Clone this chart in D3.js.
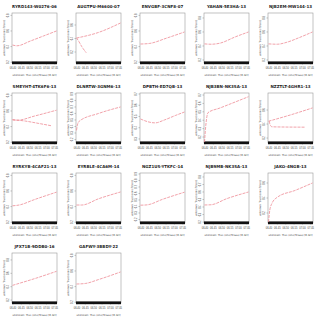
<!DOCTYPE html>
<html>
<head>
<meta charset="utf-8">
<script src="https://cdn.jsdelivr.net/npm/d3@7"></script>
<style>
  body{margin:0;background:#fff;}
  svg{display:block;font-family:"DejaVu Sans",sans-serif;}
</style>
</head>
<body>
<svg id="chart" width="320" height="320"></svg>
<script>
//data--------------------------------------------------
var titles=['RYRD143-W0276-06','AUGTPU-M6600-07','ENVGBF-3CNF8-07','YAHAN-5E3HA-13','NJB2EM-MW144-13',
  'SMEYHT-4TK6F6-13','DLNRTW-3GNM6-13','DPBTH-ED7QB-13','NJB3BN-NK3SA-13','NZZTLT-4GHR1-13',
  'RYRKYB-4CAF21-13','EYRBLE-4CA6M-14','NGZ1US-YTKFC-14','NJB9MB-NK3SA-13','JAKO-4NGB-13',
  'JFX71B-9DDB0-16','GAFWY-3BBDY-22'];

var yDomains=[[0.19,0.83],[0.037,0.778],[0.19,0.83],[0.157,0.871],[0.157,0.871],
  [0.19,0.83],[0.146,0.915],[0.264,0.709],[0.129,0.724],[0.129,0.843],
  [0.19,0.83],[0.19,0.83],[0.146,0.915],[0.187,0.853],[0.067,0.733],
  [0.156,0.904],[0.19,0.83]];

var yTicks=[[0.2,0.4,0.6,0.8],[0.2,0.4,0.6],[0.2,0.4,0.6,0.8],[0.2,0.4,0.6,0.8],[0.2,0.4,0.6,0.8],
  [0.2,0.4,0.6,0.8],[0.2,0.3,0.4,0.5,0.6,0.7,0.8,0.9],[0.3,0.4,0.5,0.6,0.7],[0.2,0.3,0.4,0.5,0.6,0.7],[0.2,0.4,0.6],
  [0.2,0.4,0.6,0.8],[0.2,0.4,0.6,0.8],[0.2,0.3,0.4,0.5,0.6,0.7,0.8,0.9],[0.2,0.3,0.4,0.5,0.6,0.7,0.8],[0.2,0.4,0.6],
  [0.2,0.4,0.6,0.8],[0.2,0.4,0.6,0.8]];

var xTickVals=[0,0.19,0.38,0.57,0.76,0.95];
var xTickLabels=['06.40','06.45','06.50','06.55','07.00','07.05'];

//first curve of every panel
var seriesA=[
  [[0,0.42],[0.1,0.41],[0.4,0.47],[0.7,0.535],[1,0.6]],
  [[0,0.407],[0.5,0.49],[1,0.63]],
  [[0,0.433],[0.2,0.44],[0.6,0.51],[1,0.587]],
  [[0,0.43],[0.15,0.425],[0.35,0.44],[0.7,0.53],[1,0.6]],
  [[0,0.43],[0.2,0.425],[0.4,0.45],[0.7,0.52],[1,0.6]],
  [[0,0.485],[0.1,0.48],[0.5,0.535],[1,0.61]],
  [[0,0.34],[0.02,0.42],[0.06,0.48],[0.5,0.6],[1,0.7]],
  [[0,0.478],[0.15,0.455],[0.33,0.443],[0.55,0.47],[0.8,0.51],[1,0.54]],
  [[0,0.14],[0.03,0.34],[0.08,0.49],[0.35,0.545],[1,0.68]],
  [[0,0.44],[0.5,0.53],[1,0.63]],
  [[0,0.41],[0.15,0.42],[0.5,0.49],[1,0.585]],
  [[0,0.42],[0.12,0.42],[0.5,0.5],[1,0.587]],
  [[0,0.42],[0.15,0.425],[0.5,0.51],[1,0.62]],
  [[0,0.427],[0.15,0.43],[0.5,0.51],[1,0.6]],
  [[0,0.08],[0.03,0.24],[0.08,0.33],[0.2,0.41],[0.6,0.5],[1,0.6]],
  [[0,0.42],[0.5,0.52],[1,0.63]],
  [[0,0.433],[0.2,0.44],[0.5,0.49],[1,0.587]]
];
//second curve, only where the panel has one
var seriesB=[
  null,
  [[0,0.41],[0.05,0.36],[0.12,0.28],[0.22,0.19]],
  null,null,null,
  [[0,0.49],[0.3,0.47],[0.6,0.44],[0.89,0.41]],
  null,null,null,
  [[0.02,0.44],[0.03,0.4],[0.08,0.36],[0.82,0.355]],
  null,null,null,null,null,null,null
];

//layout---------------------------
var ncol=5, cellW=64, cellH=80;
var box={left:12,right:57,top:13,bottom:63};
var svg=d3.select('#chart');

titles.forEach((title, i) => {
  var g=svg.append('g')
    .attr('transform','translate('+((i%ncol)*cellW)+','+(Math.floor(i/ncol)*cellH)+')');

  var x=d3.scaleLinear().domain([0,1]).range([box.left+0.5,box.right-0.5]);
  var y=d3.scaleLinear().domain(yDomains[i]).range([box.bottom,box.top]);

  g.append('text')
    .attr('x',(box.left+box.right)/2).attr('y',8)
    .attr('text-anchor','middle')
    .style('font-size','4px').style('font-weight','bold').style('fill','#222')
    .text(title);

  //y axis, R-style labels turned sideways
  var yAxis=d3.axisLeft(y).tickValues(yTicks[i]).tickSize(1.5).tickFormat(d3.format('.1f'));
  var ya=g.append('g').attr('transform','translate('+box.left+',0)').call(yAxis);
  ya.select('.domain').remove();
  ya.selectAll('line').attr('stroke','#666').attr('stroke-width',0.4);
  ya.selectAll('text')
    .attr('x',0).attr('dy',0)
    .attr('transform',d => 'translate(-3,'+y(d)+') rotate(-90)')
    .attr('text-anchor','middle')
    .style('font-size','2.6px').style('fill','#444');
  ya.selectAll('.tick').attr('transform',null);
  ya.selectAll('.tick line').attr('transform',d => 'translate(0,'+y(d)+')');

  g.append('text')
    .attr('transform','translate(5,'+((box.top+box.bottom)/2)+') rotate(-90)')
    .attr('text-anchor','middle')
    .style('font-size','2.6px').style('fill','#444')
    .text('unknown: True (ones/Tclass)');

  //x axis
  var xAxis=d3.axisBottom(x).tickValues(xTickVals).tickSize(1.5)
    .tickFormat((d,k) => xTickLabels[k]);
  var xa=g.append('g').attr('transform','translate(0,'+box.bottom+')').call(xAxis);
  xa.select('.domain').remove();
  xa.selectAll('line').attr('stroke','#666').attr('stroke-width',0.4);
  xa.selectAll('text').attr('y',4).attr('dy','0.7em')
    .style('font-size','2.6px').style('fill','#444');

  g.append('text')
    .attr('x',(box.left+box.right)/2).attr('y',76)
    .attr('text-anchor','middle')
    .style('font-size','2.6px').style('fill','#444')
    .text('unknown: True (one/Tclass) [B.SH]');

  //frame
  g.append('rect')
    .attr('x',box.left).attr('y',box.top)
    .attr('width',box.right-box.left).attr('height',box.bottom-box.top)
    .attr('fill','none').attr('stroke','#999').attr('stroke-width',0.6);

  //rug of observations along the bottom, dense enough to read as a band
  g.append('rect')
    .attr('x',x(0)-0.5).attr('y',box.bottom-1.6)
    .attr('width',x(1)-x(0)+1).attr('height',2.8)
    .attr('fill','#111');

  var line=d3.line()
    .x(d => x(d[0]))
    .y(d => y(d[1]))
    .curve(d3.curveMonotoneX);

  [seriesA[i],seriesB[i]].forEach((s) => {
    if(s==null){return;}
    g.append('path')
      .datum(s)
      .attr('d',line)
      .attr('fill','none')
      .attr('stroke','#ee8a94')
      .attr('stroke-width',0.8)
      .attr('stroke-dasharray','3,1');
  });
});
</script>
</body>
</html>
